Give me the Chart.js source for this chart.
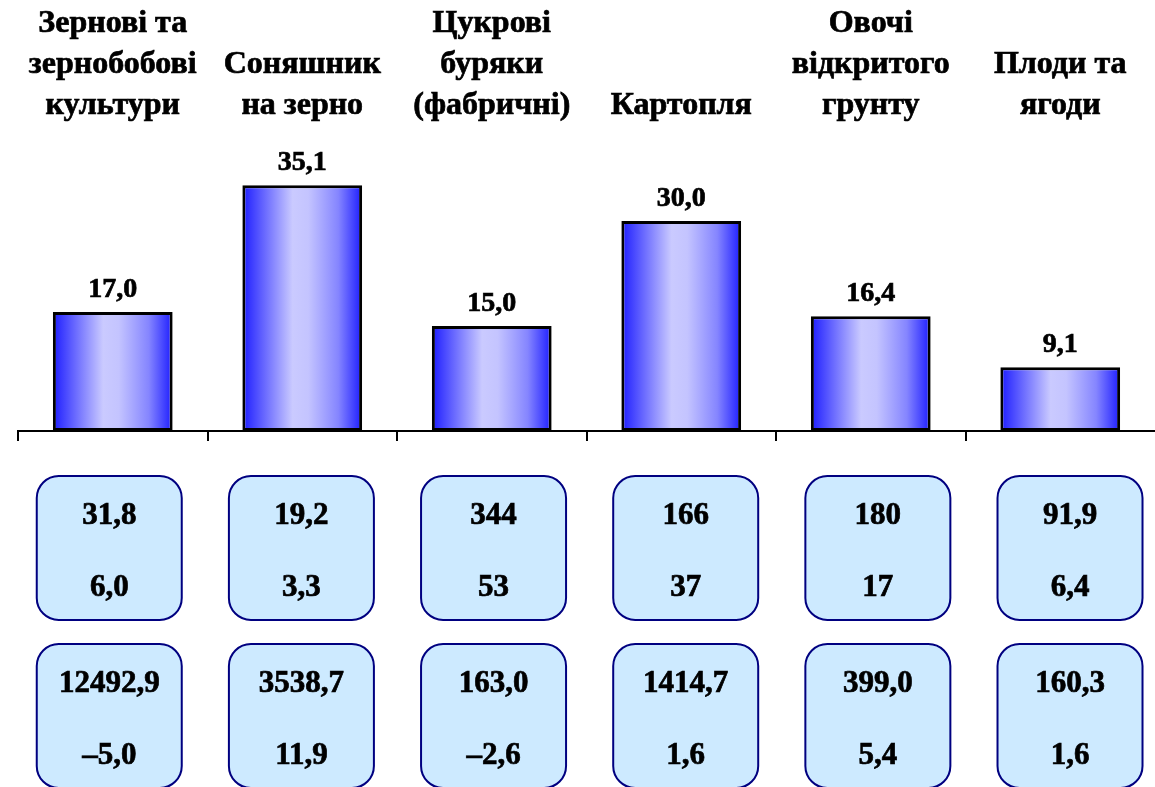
<!DOCTYPE html>
<html><head><meta charset="utf-8">
<script src="https://cdn.jsdelivr.net/npm/chart.js@4/dist/chart.umd.min.js"></script>
<style>html,body{margin:0;padding:0;background:#fff;overflow:hidden;}</style>
</head><body>
<canvas id="c" width="1155" height="787" style="display:block;width:1155px;height:787px"></canvas>
<script>
const categories = [
  ["Зернові та","зернобобові","культури"],
  ["Соняшник","на зерно"],
  ["Цукрові","буряки","(фабричні)"],
  ["Картопля"],
  ["Овочі","відкритого","грунту"],
  ["Плоди та","ягоди"]
];
const barValues = [17.0, 35.1, 15.0, 30.0, 16.4, 9.1];
const box1Top = ["31,8","19,2","344","166","180","91,9"];
const box1Bottom = ["6,0","3,3","53","37","17","6,4"];
const box2Top = ["12492,9","3538,7","163,0","1414,7","399,0","160,3"];
const box2Bottom = ["–5,0","11,9","–2,6","1,6","5,4","1,6"];
const yMin = 0, yMax = 43.6;

const FONT = '"Liberation Serif", "Times New Roman", serif';
const STROKE = 0.7;

function fmt(v){ return v.toFixed(1).replace('.', ','); }

function rr(ctx, x, y, w, h, r){
  ctx.beginPath();
  ctx.moveTo(x + r, y);
  ctx.lineTo(x + w - r, y);
  ctx.arcTo(x + w, y, x + w, y + r, r);
  ctx.lineTo(x + w, y + h - r);
  ctx.arcTo(x + w, y + h, x + w - r, y + h, r);
  ctx.lineTo(x + r, y + h);
  ctx.arcTo(x, y + h, x, y + h - r, r);
  ctx.lineTo(x, y + r);
  ctx.arcTo(x, y, x + r, y, r);
  ctx.closePath();
}

function boldText(ctx, s, x, y){
  ctx.fillText(s, x, y);
  ctx.lineWidth = STROKE;
  ctx.strokeStyle = '#000';
  ctx.strokeText(s, x, y);
}

const valueLabels = {
  id: 'valueLabels',
  afterDatasetsDraw(chart){
    const ctx = chart.ctx;
    const meta = chart.getDatasetMeta(0);
    ctx.save();
    ctx.fillStyle = '#000';
    ctx.font = 'bold 28px ' + FONT;
    ctx.textAlign = 'center';
    ctx.textBaseline = 'alphabetic';
    meta.data.forEach((bar, i) => {
      boldText(ctx, fmt(barValues[i]), bar.x, bar.y - 15);
    });
    ctx.restore();
  }
};

const boxes = {
  id: 'boxes',
  afterDraw(chart){
    const ctx = chart.ctx, xs = chart.scales.x, base = chart.chartArea.bottom;
    const p0 = xs.getPixelForValue(0), p5 = xs.getPixelForValue(5);
    const pitch = (p5 - p0) / 5 * 1.014;
    const rows = [[box1Top, box1Bottom, 45], [box2Top, box2Bottom, 213]];
    ctx.save();
    rows.forEach(([tops, bottoms, off]) => {
      tops.forEach((t, i) => {
        const cx = p0 - 3.5 + pitch * i;
        const w = 145, h = 144;
        const x = cx - w / 2, y = base + off;
        rr(ctx, x, y, w, h, 22);
        ctx.fillStyle = '#cdeaff';
        ctx.fill();
        ctx.lineWidth = 2;
        ctx.strokeStyle = '#000080';
        ctx.stroke();
        ctx.fillStyle = '#000';
        ctx.font = 'bold 31px ' + FONT;
        ctx.textAlign = 'center';
        ctx.textBaseline = 'middle';
        boldText(ctx, t, cx, y + 40);
        boldText(ctx, bottoms[i], cx, y + 112);
      });
    });
    ctx.restore();
  }
};

function barGradient(c){
  const chart = c.chart;
  const xs = chart.scales && chart.scales.x;
  if (!xs || c.dataIndex === undefined) return '#6666ff';
  const cx = xs.getPixelForValue(c.dataIndex);
  if (!isFinite(cx)) return '#6666ff';
  const half = 60;
  const g = chart.ctx.createLinearGradient(cx - half, 0, cx + half, 0);
  g.addColorStop(0, '#1c1cff');
  g.addColorStop(0.42, '#cacaff');
  g.addColorStop(0.55, '#c4c4ff');
  g.addColorStop(0.8, '#8585ff');
  g.addColorStop(1, '#1c1cff');
  return g;
}

new Chart(document.getElementById('c'), {
  type: 'bar',
  data: {
    labels: categories,
    datasets: [{
      data: barValues,
      backgroundColor: barGradient,
      borderColor: '#000',
      borderWidth: 3,
      borderSkipped: false,
      categoryPercentage: 1,
      barPercentage: 0.632,
      xAxisID: 'x',
      yAxisID: 'y'
    }]
  },
  options: {
    responsive: false,
    animation: false,
    devicePixelRatio: 1,
    layout: { padding: { top: 3, left: 18, right: 0, bottom: 346 } },
    plugins: { legend: { display: false }, tooltip: { enabled: false } },
    scales: {
      x: {
        type: 'category',
        position: 'bottom',
        offset: true,
        grid: {
          display: true, drawOnChartArea: false, drawTicks: true, tickLength: 10, offset: true,
          color: (c) => c.type === 'tick' ? '#000' : 'rgba(0,0,0,0)',
          lineWidth: 2
        },
        border: { display: true, color: '#000', width: 2 },
        ticks: { display: false }
      },
      xTop: {
        type: 'category',
        position: 'top',
        labels: categories,
        offset: true,
        grid: { display: false, drawTicks: false },
        border: { display: false },
        ticks: {
          padding: 0,
          color: '#000',
          textStrokeColor: '#000',
          textStrokeWidth: STROKE,
          maxRotation: 0,
          autoSkip: false,
          font: { family: FONT, size: 32, weight: 'bold', lineHeight: 1.28 }
        }
      },
      y: {
        display: false,
        min: yMin,
        max: yMax
      }
    }
  },
  plugins: [valueLabels, boxes]
});
</script>
</body></html>
